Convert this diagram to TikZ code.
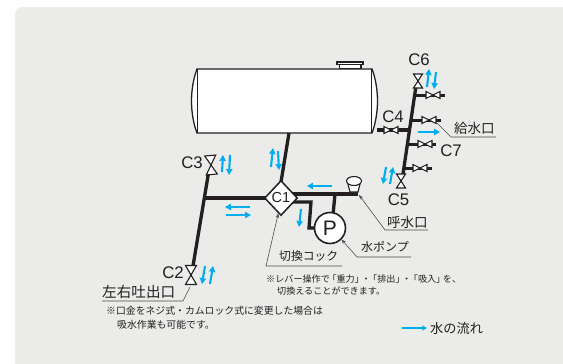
\documentclass[tikz,border=0pt]{standalone}
\usepackage{fontspec}
\setmainfont{Liberation Sans}
\newfontfamily\jp{Noto Sans CJK JP}
\usetikzlibrary{arrows.meta,shapes.geometric}
\definecolor{panel}{HTML}{EBEBE9}
\definecolor{ink}{HTML}{231F20}
\definecolor{flow}{HTML}{00AEEF}
\tikzset{
  pipe/.style={draw=ink,line width=3.3pt},
  thinpipe/.style={draw=ink,line width=3pt},
  lead/.style={draw=ink!80,line width=0.6pt},
  leadarrow/.style={lead,-{Stealth[length=4.5pt,width=3.5pt]}},
  valvebit/.style={draw=ink,line width=1.1pt,fill=white,line join=miter},
  flowarrow/.style={draw=flow,line width=2.1pt,-{Stealth[length=6pt,width=6.5pt,inset=0.5pt]}},
  clabel/.style={font=\fontsize{16.8}{17}\selectfont,text=ink,inner sep=0pt},
  jlabel/.style={font=\jp\fontsize{13.5}{15}\selectfont,text=ink,inner sep=0pt},
  note/.style={font=\jp\fontsize{9.85}{11}\selectfont,text=ink,inner sep=0pt,anchor=west},
  notesmall/.style={font=\jp\fontsize{9.1}{10}\selectfont,text=ink,inner sep=0pt,anchor=west},
  vbow/.pic={\draw[valvebit] (-4.5,-7)--(4.5,-7)--(-4.5,7)--(4.5,7)--cycle;},
  vbowlarge/.pic={\draw[valvebit] (-5.5,-9.5)--(5.5,-9.5)--(-5.5,9.5)--(5.5,9.5)--cycle;},
  hbow/.pic={\draw[valvebit] (-7,-3.5)--(7,3.5)--(7,-3.5)--(-7,3.5)--cycle;},
}
\newcommand{\lb}{\kern-2.4pt 「}
\newcommand{\rb}{」\kern-2.4pt }
\begin{document}
\begin{tikzpicture}[x=1pt,y=-1pt]
\useasboundingbox (0,0) rectangle (563,364);
\fill[white] (0,0) rectangle (563,364);
\fill[panel,rounded corners=8pt] (15,7) rectangle (590,400);
% tank
\draw[draw=ink,line width=1.3pt,fill=white] (337,62) rectangle (363,64.5);
\draw[draw=ink,line width=1.2pt,fill=white] (339.5,64.5) rectangle (361,69);
\draw[draw=ink,line width=1.3pt,fill=white]
  (197,69) -- (372,69) .. controls (375.5,78) and (377.5,90) .. (377.5,101)
  .. controls (377.5,112) and (375.5,124) .. (372,133) -- (197,133)
  .. controls (193.5,124) and (191.5,112) .. (191.5,101)
  .. controls (191.5,90) and (193.5,78) .. (197,69) -- cycle;
\draw[draw=ink,line width=0.7pt] (197.5,69) -- (197.5,133) (371.5,69) -- (371.5,133);
% coordinates
\coordinate (tankout) at (289,133);
\coordinate (tankright) at (377,130);
\coordinate (tee) at (205,198);
\coordinate (c3top) at (208.5,173);
\coordinate (c2top) at (193,266);
\coordinate (mtop) at (416,86);
\coordinate (mbot) at (403,174);
\coordinate (m4) at (408.5,130);
\coordinate (b1) at (414,95);
\coordinate (b1e) at (445,95);
\coordinate (b2) at (410.5,120);
\coordinate (b2e) at (441,120);
\coordinate (b3) at (406.5,144);
\coordinate (b3e) at (436,144);
\coordinate (b4) at (403.5,168);
\coordinate (b4e) at (432,168);
\coordinate (upR) at (358,194);
\coordinate (pumpT) at (335,194);
\coordinate (lowR) at (311,202);
\coordinate (lowD) at (309,228);
% pipes
\draw[pipe] (tankout) -- (281,182);
\draw[pipe] (tee) -- (268,198);
\draw[pipe] (c3top) -- (c2top);
\draw[pipe] (mtop) -- (mbot);
\draw[pipe] (tankright) -- (m4);
\draw[thinpipe] (b1) -- (b1e);
\draw[thinpipe] (b2) -- (b2e);
\draw[thinpipe] (b3) -- (b3e);
\draw[thinpipe] (b4) -- (b4e);
\draw[pipe] (290,194) -- (upR);
\draw[pipe] (pumpT) -- (333,215);
\draw[pipe,line join=miter] (290,202) -- (lowR) -- (lowD) -- (318,228);
% valves
\pic[rotate=5] at (211,165) {vbowlarge};
\pic at (191,275) {vbowlarge};
\pic at (418,81) {vbow};
\pic at (401,181) {vbow};
\pic at (391,130) {hbow};
\pic at (433,95) {hbow};
\pic at (429,120) {hbow};
\pic at (425,144) {hbow};
\pic at (420,168) {hbow};
% C1, pump, priming cap
\node[diamond,draw=ink,line width=1.5pt,fill=white,minimum width=33pt,minimum height=35pt,inner sep=0pt,font=\fontsize{14.5}{15}\selectfont,text=ink] (c1) at (281,198) {C1};
\node[circle,draw=ink,line width=1.6pt,fill=white,minimum size=31pt,inner sep=0pt,font=\fontsize{21}{21}\selectfont,text=ink] (pump) at (330,228) {P};
\draw[draw=ink,line width=1.1pt,fill=white] (348,184) -- (350,192) -- (358,192) -- (360,184) -- cycle;
\node[ellipse,draw=ink,line width=1.1pt,fill=white,minimum width=15pt,minimum height=9pt,inner sep=0pt] (cap) at (354,181) {};
% labels
\node[clabel] (c6) at (419,59.5) {C6};
\node[clabel] (c4) at (393,116.5) {C4};
\node[clabel] (c7) at (451,150.5) {C7};
\node[clabel] (c5) at (398.5,199.5) {C5};
\node[clabel] (c3) at (192,162.5) {C3};
\node[clabel] (c2) at (173,272.5) {C2};
\node[jlabel,anchor=west] (kyu) at (454,128.5) {給水口};
\node[jlabel,anchor=west] (yobi) at (387,222) {呼水口};
\node[jlabel,anchor=west,font=\jp\fontsize{12}{14}\selectfont] (mizu) at (361,247) {水ポンプ};
\node[jlabel,anchor=west,font=\jp\fontsize{11.8}{14}\selectfont] (kiri) at (279,256) {切換コック};
\node[jlabel,anchor=west,font=\jp\fontsize{14.6}{15}\selectfont] (sayu) at (102,292) {左右吐出口};
\node[note] (n1) at (106,311) {※口金をネジ式・カムロック式に変更した場合は};
\node[note] (n2) at (117,325) {吸水作業も可能です。};
\node[notesmall] (n3) at (266,279) {※レバー操作で\lb 重力\rb ・\lb 排出\rb ・\lb 吸入\rb を、};
\node[notesmall] (n4) at (277,291) {切換えることができます。};
\node[jlabel,anchor=west,font=\jp\fontsize{13.2}{15}\selectfont] (legend) at (430,328) {水の流れ};
% leaders
\coordinate (k1) at (437,123);\coordinate (k2) at (451,137);\coordinate (k3) at (496,137);
\draw[lead] (k1) -- (k2) -- (k3);
\coordinate (y1) at (385,230);\coordinate (y2) at (428,230);
\draw[leadarrow] (y2) -- (y1) -- (359,195);
\coordinate (m1) at (357,257);\coordinate (m2) at (411,257);
\draw[leadarrow] (m2) -- (m1) -- (pump.-45);
\coordinate (s1) at (266,266);\coordinate (s2) at (342,266);
\draw[leadarrow] (s2) -- (s1) -- (c1.-100);
\coordinate (l1) at (102,301);\coordinate (l2) at (183,301);\coordinate (l3) at (190,287);
\draw[lead] (l1) -- (l2) -- (l3);
% flow arrows
\draw[flowarrow] (271,167) -- (273,148);
\draw[flowarrow] (278,151) -- (279,170);
\draw[flowarrow] (222,172) -- (223,155);
\draw[flowarrow] (230,155) -- (229,175);
\draw[flowarrow] (250,207) -- (225,207);
\draw[flowarrow] (226,215) -- (251,215);
\draw[flowarrow] (332,186) -- (307,186);
\draw[flowarrow] (301,209) -- (299,227);
\draw[flowarrow] (386,167) -- (383,184);
\draw[flowarrow] (390,184) -- (393,167);
\draw[flowarrow] (427,87) -- (429,69);
\draw[flowarrow] (436,72) -- (434,89);
\draw[flowarrow] (418,132) -- (440,132);
\draw[flowarrow] (205,266) -- (202,284);
\draw[flowarrow] (210,284) -- (213,266);
\coordinate (fa) at (402,328);\coordinate (fb) at (427,328);
\draw[draw=flow,line width=1.5pt,-{Stealth[length=5pt,width=5.5pt]}] (fa) -- (fb);
\end{tikzpicture}
\end{document}
